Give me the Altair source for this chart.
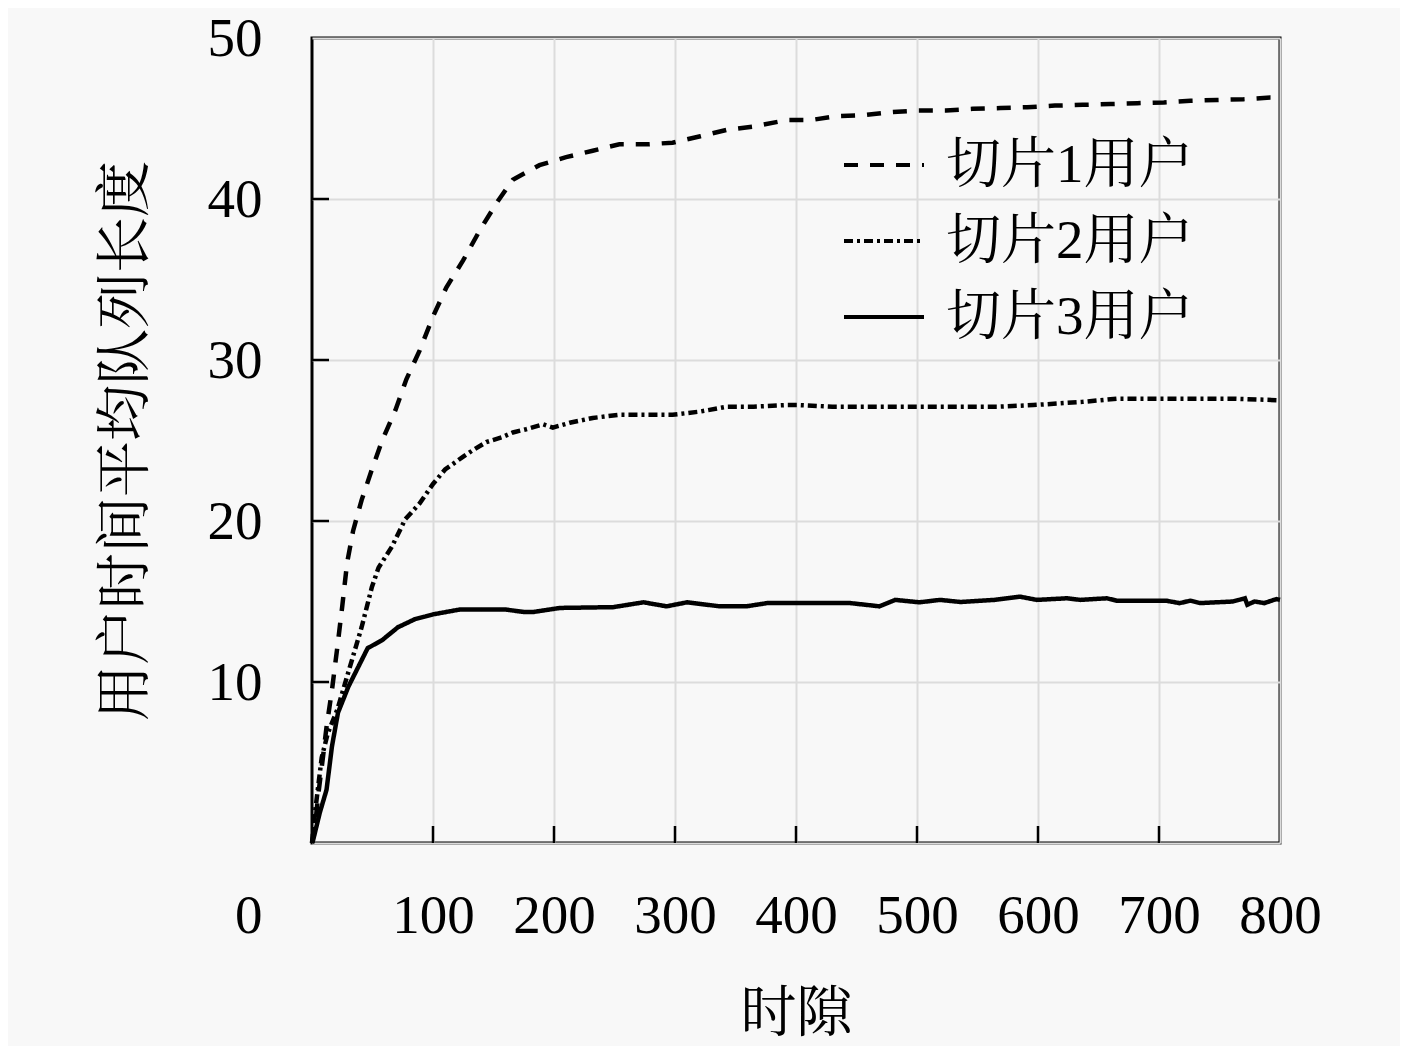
import altair as alt
import pandas as pd

names = ["切片1用户", "切片2用户", "切片3用户"]

x1 = [0, 2.5, 5, 9, 12, 16.5, 21, 25, 29, 34, 41, 49.5, 58, 69, 78, 89, 100, 111, 125, 139,
      153, 166, 188, 210, 232, 254, 278, 298, 321, 343, 365, 392, 412, 434, 455, 479, 501, 524, 546, 569,
      591, 614, 637, 660, 682, 704, 726, 748, 770, 792, 800]
y1 = [0, 1.0, 2.9, 5.3, 7.2, 9.5, 12.2, 14.7, 17.4, 19.4, 21.3, 23.2, 25.0, 26.9, 28.8, 30.6, 32.7, 34.5, 36.2, 38.1,
      39.8, 41.2, 42.1, 42.6, 43.0, 43.4, 43.4, 43.5, 43.9, 44.3, 44.5, 44.9, 44.9, 45.15, 45.2, 45.4, 45.5, 45.5, 45.6, 45.65,
      45.7, 45.8, 45.85, 45.9, 45.95, 46.0, 46.1, 46.15, 46.2, 46.3, 46.3]

x2 = [0, 2.5, 8, 13, 21, 30, 41, 49.5, 55, 66, 77, 89, 100, 110, 125, 133, 144, 157, 166, 177,
      191, 199, 213, 232, 254, 277, 298, 321, 343, 365, 392, 403, 430, 458, 513, 568, 596, 637, 665, 706,
      761, 800]
y2 = [0, 1.9, 5.3, 6.8, 8.3, 10.6, 13.4, 15.9, 17.1, 18.4, 20.1, 21.1, 22.3, 23.2, 24.0, 24.4, 24.9, 25.2, 25.5, 25.7,
      26.0, 25.8, 26.1, 26.4, 26.6, 26.6, 26.6, 26.8, 27.1, 27.1, 27.2, 27.2, 27.1, 27.1, 27.1, 27.1, 27.2, 27.4, 27.6, 27.6,
      27.6, 27.5]

x3 = [0, 1, 6.5, 12, 16.5, 21.5, 30, 38, 46, 58, 71, 85, 100, 122, 160, 175, 183, 205, 249, 274,
      293, 310, 337, 359, 376, 436, 445, 469, 482, 502, 519, 536, 564, 585, 599, 624, 635, 657, 665, 706,
      717, 726, 734, 761, 771, 773, 779, 787, 797, 800]
y3 = [0, 0.2, 1.9, 3.3, 6.0, 8.1, 9.7, 10.9, 12.1, 12.6, 13.4, 13.9, 14.2, 14.5, 14.5, 14.35, 14.35, 14.6, 14.65, 14.95,
      14.7, 14.95, 14.7, 14.7, 14.9, 14.9, 14.9, 14.7, 15.1, 14.95, 15.1, 14.97, 15.1, 15.3, 15.1, 15.2, 15.1, 15.2, 15.05, 15.05,
      14.9, 15.05, 14.9, 15.0, 15.2, 14.8, 15.0, 14.9, 15.15, 15.1]

x_ticks = [100, 200, 300, 400, 500, 600, 700, 800]
y_ticks = [0, 10, 20, 30, 40, 50]
x_inner = [100, 200, 300, 400, 500, 600, 700]
y_inner = [10, 20, 30, 40]

rows = []
for name, xs, ys in zip(names, [x1, x2, x3], [y1, y2, y3]):
    for i, (a, b) in enumerate(zip(xs, ys)):
        rows.append({"series": name, "t": a, "q": b, "order": i})
df = pd.DataFrame(rows)

FONT = "Liberation Serif, Noto Serif CJK SC, Noto Sans CJK SC"
W, H = 968, 805

xscale = alt.Scale(domain=[0, 800], nice=False)
yscale = alt.Scale(domain=[0, 50], nice=False)

lines = alt.Chart(df).mark_line(strokeWidth=4.5, color="black", strokeCap="butt").encode(
    x=alt.X("t:Q", scale=xscale, title="时隙",
            axis=alt.Axis(values=x_ticks, grid=True, ticks=False, tickSize=0, domain=False,
                          labelFlush=False, labelOverlap=False, labelPadding=72, labelBaseline="middle",
                          labelFontSize=55, labelFont=FONT, labelColor="black",
                          titleFontSize=56, titleFont=FONT, titleFontWeight="normal", titleColor="black",
                          titleX=W / 2, titleY=170, titleBaseline="middle",
                          gridColor="#dcdcdc", gridWidth=2)),
    y=alt.Y("q:Q", scale=yscale, title="用户时间平均队列长度",
            axis=alt.Axis(values=y_ticks, grid=True, ticks=False, tickSize=0, domain=False,
                          labelFlush=False, labelOverlap=False, labelPadding=50,
                          labelOffset={"condition": {"test": "datum.value == 0", "value": 72}, "value": 0},
                          labelFontSize=55, labelFont=FONT, labelColor="black",
                          titleFontSize=56, titleFont=FONT, titleFontWeight="normal", titleColor="black",
                          titleX=-187, titleY=H / 2, titleBaseline="middle", titleAngle=-90,
                          gridColor="#dcdcdc", gridWidth=2)),
    strokeDash=alt.StrokeDash("series:N",
                              scale=alt.Scale(domain=names, range=[[14, 12], [9, 4, 3, 4], [1, 0]]),
                              legend=alt.Legend(title=None, orient="none", legendX=530, legendY=85,
                                                symbolType="stroke", symbolSize=6400,
                                                symbolStrokeColor="black", symbolStrokeWidth=4,
                                                labelFontSize=55, labelFont=FONT, labelColor="black",
                                                labelLimit=0, labelOffset=20, rowPadding=6, padding=0)),
    detail="series:N",
    order="order:Q",
)

xt = pd.DataFrame({"v": x_inner})
yt = pd.DataFrame({"v": y_inner})

xtick_rules = alt.Chart(xt).mark_rule(color="black", strokeWidth=2.5).encode(
    x=alt.X("v:Q", scale=xscale), y=alt.value(H - 17), y2=alt.value(H))
ytick_rules = alt.Chart(yt).mark_rule(color="black", strokeWidth=2.5).encode(
    y=alt.Y("v:Q", scale=yscale), x=alt.value(0), x2=alt.value(17))

chart = alt.layer(lines, xtick_rules, ytick_rules).properties(
    width=W, height=H,
    autosize=alt.AutoSizeParams(type="none"),
    padding={"left": 304, "top": 30, "right": 120, "bottom": 203},
    background="#f8f8f8",
).configure_view(stroke="black", strokeWidth=3, fill="#f8f8f8")

chart.save("out.html", embed_options={"renderer": "svg", "actions": False})
